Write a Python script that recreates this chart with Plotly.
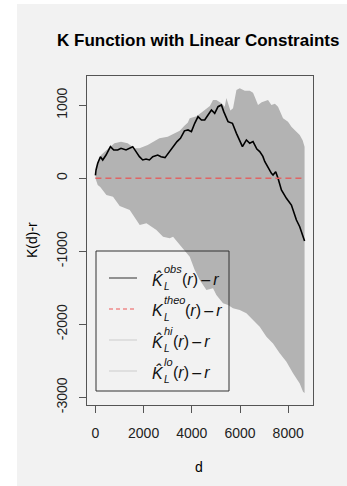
import plotly.graph_objects as go

# Observed K-function (minus r) along the network
d_obs = [0, 25, 95, 207, 303, 440, 622, 760, 925, 1062, 1270, 1408, 1548, 1685,
         1826, 1963, 2100, 2241, 2378, 2585, 2722, 2888, 3071, 3249, 3386, 3528,
         3694, 3843, 3984, 4121, 4258, 4399, 4536, 4673, 4814, 4951, 5088, 5229,
         5325, 5503, 5686, 5852, 5989, 6101, 6266, 6404, 6541, 6700, 6819, 6950,
         7026, 7163, 7304, 7371, 7441, 7482, 7578, 7719, 7927, 8134, 8342, 8479,
         8680]
k_obs = [40, 114, 205, 296, 251, 319, 433, 388, 388, 411, 388, 411, 433, 365,
         296, 251, 264, 251, 296, 319, 296, 283, 365, 433, 502, 548,
         650, 662, 639, 753, 845, 799, 799, 867, 936, 890, 981, 1004,
         913, 776, 753, 616, 502, 433, 525, 479, 502, 400, 365, 300,
         230, 140, 68, 45, 68, 91, 0, -160, -274, -366, -571, -663,
         -860]

# Simulation envelope (upper and lower bounds)
d_hi = [0, 100, 232, 500, 788, 1062, 1340, 1618, 1826, 2170, 2448, 2656, 3000,
        3278, 3500, 3694, 3830, 3914, 4200, 4536, 4750, 4881, 5020, 5229, 5366,
        5435, 5600, 5711, 5800, 5852, 5989, 6200, 6404, 6541, 6611, 6748, 6900,
        7026, 7163, 7304, 7450, 7578, 7700, 7786, 7993, 8134, 8342, 8479, 8600,
        8680]
k_hi = [0, 230, 319, 400, 479, 502, 479, 411, 411, 456, 502, 548, 570,
        616, 650, 720, 760, 822, 850, 936, 990, 1073, 1073, 1027, 981,
        1100, 930, 960, 1150, 1210, 1234, 1200, 1200, 1170, 1118, 1004, 1040,
        1060, 1073, 1004, 1020, 981, 900, 822, 776, 707, 639, 593, 520,
        433]

d_lo = [0, 95, 200, 456, 730, 1008, 1424, 1838, 2117, 2531, 2806, 3084, 3222,
        3637, 3914, 4121, 4330, 4607, 4881, 5020, 5296, 5503, 5711, 5989, 6266,
        6541, 6819, 7097, 7371, 7649, 7927, 8201, 8479, 8617, 8680]
k_lo = [0, -92, -120, -230, -252, -380, -434, -640, -617, -708, -800, -822, -800,
        -959, -1074, -1256, -1393, -1530, -1507, -1599, -1712, -1736, -1781, -1804, -1850,
        -1941, -2033, -2170, -2261, -2397, -2513, -2671, -2809, -2923, -2940]

# Theoretical value (K_L(r) - r = 0 under CSR)
d_theo = [0, 8680]
k_theo = [0, 0]

x_ticks = [0, 2000, 4000, 6000, 8000]
y_ticks = [-3000, -2000, -1000, 0, 1000]

W, H = 347, 486
ML, MR, MT, MB = 87, 34, 76, 81
PW, PH = W - ML - MR, H - MT - MB
BG = "#f2f2f2"
FONT = "Liberation Sans, Arial, Helvetica, sans-serif"


def px(xp):
    return (xp - ML) / PW


def py(yp):
    return (H - MB - yp) / PH


fig = go.Figure()

fig.add_trace(go.Scatter(x=d_lo, y=k_lo, mode="lines", line=dict(width=0, color="#b3b3b3"),
                         hoverinfo="skip", showlegend=False))
fig.add_trace(go.Scatter(x=d_hi, y=k_hi, mode="lines", line=dict(width=0, color="#b3b3b3"),
                         fill="tonexty", fillcolor="#b3b3b3", hoverinfo="skip", showlegend=False))
fig.add_trace(go.Scatter(x=d_obs, y=k_obs, mode="lines", line=dict(width=1.6, color="#000000"),
                         showlegend=False))
fig.add_trace(go.Scatter(x=d_theo, y=k_theo, mode="lines",
                         line=dict(width=1.5, color="#e06464", dash="6px,4px"),
                         showlegend=False))

shapes = [
    # page background band
    dict(type="rect", xref="paper", yref="paper", x0=px(17), x1=px(W + 2), y0=py(H + 2), y1=py(4),
         fillcolor=BG, line=dict(width=0), layer="below"),
    # legend frame
    dict(type="rect", xref="paper", yref="paper", x0=px(96), x1=px(229), y0=py(391), y1=py(251),
         line=dict(color="#333333", width=1), fillcolor="rgba(0,0,0,0)"),
]

legend_rows = [
    # (y centre, sample colour, dash, main symbol, superscript, rest x)
    (278, "#707070", "solid", "K\u0302", "obs", 180),
    (309, "#f08a8a", "4px,3px", "K", "theo", 183),
    (340, "#d9d9d9", "solid", "K\u0302", "hi", 171),
    (371, "#d9d9d9", "solid", "K\u0302", "lo", 171),
]

annotations = [
    dict(text="<b>K Function with Linear Constraints</b>", x=px(198), y=py(40),
         xref="paper", yref="paper", showarrow=False, xanchor="center", yanchor="middle",
         font=dict(family=FONT, size=17, color="#000000")),
    dict(text="d", x=px(199), y=py(467), xref="paper", yref="paper", showarrow=False,
         xanchor="center", yanchor="middle", font=dict(family=FONT, size=14, color="#000000")),
    dict(text="K(d)-r", x=px(32), y=py(240), xref="paper", yref="paper", showarrow=False,
         textangle=-90, xanchor="center", yanchor="middle",
         font=dict(family=FONT, size=14, color="#000000")),
]

for yc, col, dash, sym, sup, rest_x in legend_rows:
    shapes.append(dict(type="line", xref="paper", yref="paper", x0=px(109), x1=px(137),
                       y0=py(yc), y1=py(yc), line=dict(color=col, width=1.5, dash=dash)))
    annotations.append(dict(text="<i>" + sym + "</i>", x=px(150), y=py(yc + 1), xref="paper", yref="paper",
                            showarrow=False, xanchor="left", yanchor="middle",
                            font=dict(family=FONT, size=16, color="#111111")))
    annotations.append(dict(text="<i>" + sup + "</i>", x=px(161.5), y=py(yc - 9), xref="paper", yref="paper",
                            showarrow=False, xanchor="left", yanchor="middle",
                            font=dict(family=FONT, size=11, color="#111111")))
    annotations.append(dict(text="<i>L</i>", x=px(161.5), y=py(yc + 8), xref="paper", yref="paper",
                            showarrow=False, xanchor="left", yanchor="middle",
                            font=dict(family=FONT, size=10, color="#111111")))
    annotations.append(dict(text="(<i>r</i>)\u2009\u2013\u2009<i>r</i>", x=px(rest_x), y=py(yc + 1),
                            xref="paper", yref="paper", showarrow=False, xanchor="left", yanchor="middle",
                            font=dict(family=FONT, size=16, color="#111111")))

axis_common = dict(showgrid=False, zeroline=False, showline=True, mirror=True,
                   linecolor="#555555", linewidth=1, ticks="outside", ticklen=7,
                   tickcolor="#555555", tickwidth=1,
                   tickfont=dict(family=FONT, size=14, color="#222222"))

fig.update_layout(
    width=W, height=H,
    margin=dict(l=ML, r=MR, t=MT, b=MB, pad=0),
    paper_bgcolor="#ffffff",
    plot_bgcolor=BG,
    showlegend=False,
    shapes=shapes,
    annotations=annotations,
    xaxis=dict(range=[-350, 9030], tickvals=x_ticks, ticktext=[str(v) for v in x_ticks],
               ticklabelstandoff=8, **axis_common),
    yaxis=dict(range=[-3105, 1401], tickvals=y_ticks, ticktext=[str(v) for v in y_ticks],
               tickangle=-90, ticklabelstandoff=6, **axis_common),
)

fig.write_html("out.html")
